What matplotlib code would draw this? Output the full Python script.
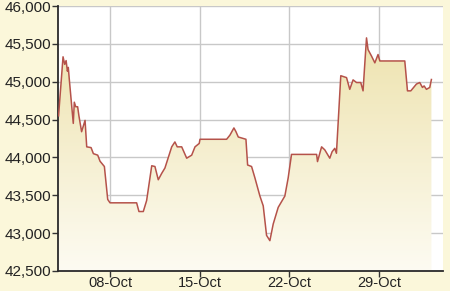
import numpy as np
import matplotlib
matplotlib.use("Agg")
import matplotlib.pyplot as plt
import matplotlib.dates as mdates
from matplotlib.colors import LinearSegmentedColormap
import pandas as pd

# day of October (fractional, intraday) and price
days = [3.98, 4.33, 4.46, 4.57, 4.67, 4.74, 4.82, 5.13, 5.21, 5.32, 5.47, 5.57,
        5.78, 6.05, 6.18, 6.52, 6.70, 7.04, 7.22, 7.56, 7.82, 8.00, 10.08, 10.26,
        10.60, 10.86, 11.26, 11.51, 11.77, 12.04, 12.29, 12.82, 13.07, 13.25,
        13.60, 13.99, 14.38, 14.64, 14.97, 15.03, 17.11, 17.37, 17.68, 17.84,
        18.02, 18.62, 18.75, 19.06, 19.32, 19.71, 19.97, 20.23, 20.49, 20.75,
        21.14, 21.66, 21.92, 22.18, 24.14, 24.21, 24.53, 24.78, 25.17, 25.35,
        25.56, 25.69, 26.03, 26.48, 26.73, 26.99, 27.26, 27.59, 27.77, 27.91,
        28.04, 28.16, 28.43, 28.69, 28.94, 29.08, 31.03, 31.24, 31.50, 31.94,
        32.20, 32.41, 32.54, 32.72, 32.98, 33.11]
prices = [44550, 45330, 45230, 45280, 45140, 45190, 45030, 44450, 44730, 44670,
          44670, 44550, 44340, 44490, 44140, 44130, 44050, 44030, 43950, 43880,
          43445, 43400, 43400, 43285, 43285, 43430, 43890, 43880, 43705, 43790,
          43860, 44140, 44205, 44140, 44140, 43990, 44030, 44140, 44185, 44240,
          44240, 44295, 44390, 44340, 44270, 44240, 43900, 43880, 43730, 43490,
          43360, 42970, 42900, 43120, 43340, 43490, 43730, 44040, 44040, 43945,
          44140, 44100, 43990, 44075, 44120, 44055, 45080, 45055, 44900, 45025,
          44990, 44990, 44880, 45250, 45580, 45425, 45340, 45250, 45360, 45275,
          45275, 44880, 44880, 44970, 44990, 44925, 44945, 44900, 44925, 45030]
yticks = [42500, 43000, 43500, 44000, 44500, 45000, 45500, 46000]
xtick_days = [8, 15, 22, 29]

base = pd.Timestamp("2018-10-01")
t = [base + pd.Timedelta(days=d - 1) for d in days]
x = mdates.date2num(t)

fig = plt.figure(figsize=(4.5, 2.91), dpi=100, facecolor="#fbf7da")
ax = fig.add_axes([0.129, 0.069, 0.855, 0.910])
ax.set_facecolor("white")

ymin, ymax = 42500, 46000
xmin = mdates.date2num(base + pd.Timedelta(days=2.94))
xmax = mdates.date2num(base + pd.Timedelta(days=33.0))

# gradient fill under the line
poly = ax.fill_between(x, prices, ymin, color="none", lw=0)
cmap = LinearSegmentedColormap.from_list("g", ["#fdfbf2", "#ece0a6"])
grad = np.linspace(0, 1, 256).reshape(-1, 1)
im = ax.imshow(grad, cmap=cmap, aspect="auto", origin="lower",
               extent=[xmin, xmax, ymin, ymax], zorder=1)
im.set_clip_path(poly.get_paths()[0], transform=ax.transData)

ax.plot(x, prices, color="#b5524a", lw=1.1, zorder=3)

ax.set_xlim(xmin, xmax)
ax.set_ylim(ymin, ymax)
ax.set_yticks(yticks)
ax.set_yticklabels([f"{v:,}" for v in yticks])
ax.set_xticks(mdates.date2num([base + pd.Timedelta(days=d - 1) for d in xtick_days]))
ax.xaxis.set_major_formatter(mdates.DateFormatter("%d-%b"))

ax.grid(True, color="#c8c8c8", lw=1, zorder=0)
ax.set_axisbelow(True)
for s in ["top", "right"]:
    ax.spines[s].set_visible(False)
for s in ["left", "bottom"]:
    ax.spines[s].set_color("#2a2a2a")
    ax.spines[s].set_linewidth(1.3)
ax.tick_params(length=4, width=1, color="#333333", labelsize=11,
               labelcolor="#222222", pad=1)
ax.tick_params(axis="x", pad=0, labelsize=10.5)
for lab in ax.get_xticklabels() + ax.get_yticklabels():
    lab.set_family("Liberation Sans")

fig.savefig("out.png", dpi=100, facecolor=fig.get_facecolor())
